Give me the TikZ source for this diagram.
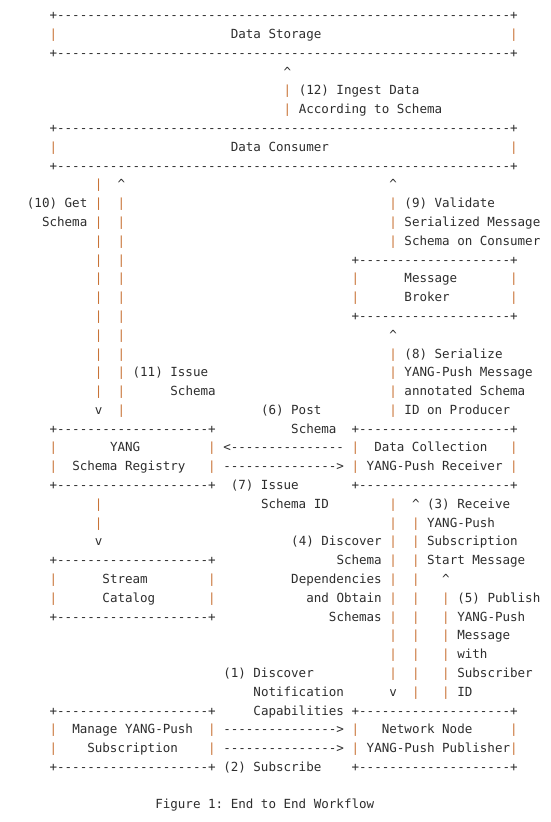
\documentclass[tikz,border=0pt]{standalone}
\usepackage{fontspec}
\setmonofont{DejaVu Sans Mono}
\definecolor{ink}{RGB}{45,45,45}
\definecolor{bar}{RGB}{200,115,55}
\ExplSyntaxOn
\cs_new:Npn \myrep #1#2 { \prg_replicate:nn {#1} {#2} }
\ExplSyntaxOff
\tikzset{txt/.style={anchor=base west,inner sep=0pt,outer sep=0pt,text=ink,font=\ttfamily\fontsize{12.54}{14}\selectfont}}
\newcommand\T[3]{\node[txt] at ({49.6+7.55*(#1)},{19.8+18.79*(#2)}) {#3};}
\newcommand\B[2]{\node[txt,text=bar] at ({49.6+7.55*(#1)},{19.8+18.79*(#2)}) {|};}
\newcommand\U[2]{\T{#1}{#2}{\textasciicircum}}
\newcommand\V[2]{\T{#1}{#2}{v}}
\newcommand\Brd[3]{\T{#1}{#2}{+\myrep{#3}{-}+}}
\newcommand\LA[2]{\T{#1}{#2}{<\myrep{15}{-}}}
\newcommand\RA[2]{\T{#1}{#2}{\myrep{15}{-}>}}
\begin{document}
\begin{tikzpicture}[x=1pt,y=-1pt]
\useasboundingbox (0,0) rectangle (550,822);
% Data Storage
\Brd{0}{0}{60}
\B{0}{1}\T{24}{1}{Data Storage}\B{61}{1}
\Brd{0}{2}{60}
\U{31}{3}
\B{31}{4}\T{33}{4}{(12) Ingest Data}
\B{31}{5}\T{33}{5}{According to Schema}
% Data Consumer
\Brd{0}{6}{60}
\B{0}{7}\T{24}{7}{Data Consumer}\B{61}{7}
\Brd{0}{8}{60}
% left pair and right flows
\B{6}{9}\U{9}{9}\U{45}{9}
\T{-3}{10}{(10) Get}\B{6}{10}\B{9}{10}\B{45}{10}\T{47}{10}{(9) Validate}
\T{-1}{11}{Schema}\B{6}{11}\B{9}{11}\B{45}{11}\T{47}{11}{Serialized Message}
\B{6}{12}\B{9}{12}\B{45}{12}\T{47}{12}{Schema on Consumer}
\B{6}{13}\B{9}{13}\Brd{40}{13}{20}
\B{6}{14}\B{9}{14}\B{40}{14}\T{47}{14}{Message}\B{61}{14}
\B{6}{15}\B{9}{15}\B{40}{15}\T{47}{15}{Broker}\B{61}{15}
\B{6}{16}\B{9}{16}\Brd{40}{16}{20}
\B{6}{17}\B{9}{17}\U{45}{17}
\B{6}{18}\B{9}{18}\B{45}{18}\T{47}{18}{(8) Serialize}
\B{6}{19}\B{9}{19}\T{11}{19}{(11) Issue}\B{45}{19}\T{47}{19}{YANG-Push Message}
\B{6}{20}\B{9}{20}\T{16}{20}{Schema}\B{45}{20}\T{47}{20}{annotated Schema}
\V{6}{21}\B{9}{21}\T{28}{21}{(6) Post}\B{45}{21}\T{47}{21}{ID on Producer}
% Registry / Data Collection
\Brd{0}{22}{20}\T{32}{22}{Schema}\Brd{40}{22}{20}
\B{0}{23}\T{8}{23}{YANG}\B{21}{23}\LA{23}{23}\B{40}{23}\T{43}{23}{Data Collection}\B{61}{23}
\B{0}{24}\T{3}{24}{Schema Registry}\B{21}{24}\RA{23}{24}\B{40}{24}\T{42}{24}{YANG-Push Receiver}\B{61}{24}
\Brd{0}{25}{20}\T{24}{25}{(7) Issue}\Brd{40}{25}{20}
\B{6}{26}\T{28}{26}{Schema ID}\B{45}{26}\U{48}{26}\T{50}{26}{(3) Receive}
\B{6}{27}\B{45}{27}\B{48}{27}\T{50}{27}{YANG-Push}
\V{6}{28}\T{32}{28}{(4) Discover}\B{45}{28}\B{48}{28}\T{50}{28}{Subscription}
% Stream Catalog
\Brd{0}{29}{20}\T{38}{29}{Schema}\B{45}{29}\B{48}{29}\T{50}{29}{Start Message}
\B{0}{30}\T{7}{30}{Stream}\B{21}{30}\T{32}{30}{Dependencies}\B{45}{30}\B{48}{30}\U{52}{30}
\B{0}{31}\T{7}{31}{Catalog}\B{21}{31}\T{34}{31}{and Obtain}\B{45}{31}\B{48}{31}\B{52}{31}\T{54}{31}{(5) Publish}
\Brd{0}{32}{20}\T{37}{32}{Schemas}\B{45}{32}\B{48}{32}\B{52}{32}\T{54}{32}{YANG-Push}
\B{45}{33}\B{48}{33}\B{52}{33}\T{54}{33}{Message}
\B{45}{34}\B{48}{34}\B{52}{34}\T{54}{34}{with}
\T{23}{35}{(1) Discover}\B{45}{35}\B{48}{35}\B{52}{35}\T{54}{35}{Subscriber}
\T{27}{36}{Notification}\V{45}{36}\B{48}{36}\B{52}{36}\T{54}{36}{ID}
% Subscription / Network Node
\Brd{0}{37}{20}\T{27}{37}{Capabilities}\Brd{40}{37}{20}
\B{0}{38}\T{3}{38}{Manage YANG-Push}\B{21}{38}\RA{23}{38}\B{40}{38}\T{44}{38}{Network Node}\B{61}{38}
\B{0}{39}\T{5}{39}{Subscription}\B{21}{39}\RA{23}{39}\B{40}{39}\T{42}{39}{YANG-Push Publisher}\B{61}{39}
\Brd{0}{40}{20}\T{23}{40}{(2) Subscribe}\Brd{40}{40}{20}
% caption
\T{14}{42}{Figure 1: End to End Workflow}
\end{tikzpicture}
\end{document}
